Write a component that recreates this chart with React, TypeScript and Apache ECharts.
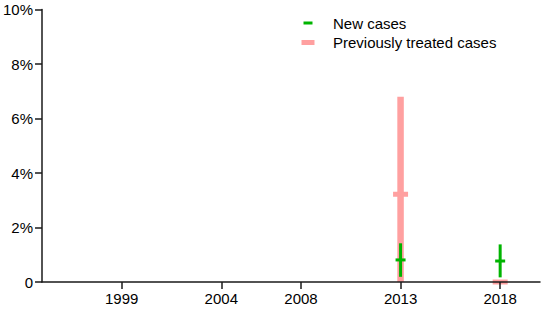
import React, { useEffect, useRef } from "react";
import * as echarts from "echarts";

const years = [2013, 2018];
const tickYears = [1999, 2004, 2008, 2013, 2018];
const newCases = [0.81, 0.77];
const newLow = [0.19, 0.17];
const newHigh = [1.42, 1.38];
const prevCases = [3.22, 0];
const prevLow = [0, 0];
const prevHigh = [6.8, 0];
const yTicks = [0, 2, 4, 6, 8, 10];

const GREEN = "#00b400";
const PINK = "#ffa0a0";

function makeSeries(name: string, vals: number[], lows: number[], highs: number[], color: string, barW: number, capW: number, capH: number, z: number) {
  const data = years.map((y, i) => [y, vals[i], lows[i], highs[i]]);
  return {
    type: "custom",
    name,
    z,
    itemStyle: { color },
    data,
    renderItem: (params: any, api: any) => {
      const x = api.value(0);
      const p = api.coord([x, api.value(1)]);
      const lo = api.coord([x, api.value(2)]);
      const hi = api.coord([x, api.value(3)]);
      const children: any[] = [];
      if (hi[1] < lo[1] - 0.5) {
        children.push({
          type: "rect",
          shape: { x: p[0] - barW / 2, y: hi[1], width: barW, height: lo[1] - hi[1] },
          style: { fill: color },
        });
      }
      children.push({
        type: "rect",
        shape: { x: p[0] - capW / 2, y: p[1] - capH / 2, width: capW, height: capH },
        style: { fill: color },
      });
      return { type: "group", children };
    },
  };
}

export default function App() {
  const ref = useRef<HTMLDivElement>(null);
  useEffect(() => {
    const chart = echarts.init(ref.current!, null, { renderer: "svg" });
    const font = "Liberation Sans, Arial, sans-serif";
    chart.setOption({
      animation: false,
      textStyle: { fontFamily: font },
      grid: { left: 40, right: 6, top: 9.5, bottom: 27, containLabel: false },
      legend: [
        {
          data: [{ name: "New cases", icon: "rect" }],
          left: 303.5,
          top: 15.5,
          padding: 0,
          itemWidth: 9,
          itemHeight: 3,
          selectedMode: false,
          textStyle: { fontSize: 15, color: "#000", fontFamily: font, padding: [0, 0, 0, 15.5] },
        },
        {
          data: [{ name: "Previously treated cases", icon: "rect" }],
          left: 301.5,
          top: 35,
          padding: 0,
          itemWidth: 13,
          itemHeight: 5,
          selectedMode: false,
          textStyle: { fontSize: 15, color: "#000", fontFamily: font, padding: [0, 0, 0, 13.5] },
        },
      ],
      xAxis: {
        type: "value",
        min: 1995,
        max: 2020,
        z: 5,
        splitLine: { show: false },
        axisLine: { show: true, lineStyle: { color: "#1a1a1a", width: 1.5 } },
        axisTick: { show: true, length: 7, customValues: tickYears, lineStyle: { color: "#1a1a1a", width: 1.5 } },
        axisLabel: {
          customValues: tickYears,
          margin: 9,
          fontSize: 15,
          color: "#000",
          fontFamily: font,
          formatter: (v: number) => String(v),
        },
      },
      yAxis: {
        type: "value",
        min: 0,
        max: 10,
        interval: 2,
        z: 5,
        splitLine: { show: false },
        axisLine: { show: true, lineStyle: { color: "#1a1a1a", width: 1.5 } },
        axisTick: { show: true, length: 7, lineStyle: { color: "#1a1a1a", width: 1.5 } },
        axisLabel: {
          margin: 9,
          fontSize: 15,
          color: "#000",
          fontFamily: font,
          customValues: yTicks,
          formatter: (v: number) => (v === 0 ? "0" : v + "%"),
        },
      },
      series: [
        makeSeries("Previously treated cases", prevCases, prevLow, prevHigh, PINK, 6.5, 15, 5, 2),
        makeSeries("New cases", newCases, newLow, newHigh, GREEN, 3, 10, 3, 3),
      ],
    });
    return () => chart.dispose();
  }, []);
  return <div ref={ref} style={{ width: 546, height: 309, position: "absolute", left: 0, top: 0 }} />;
}
